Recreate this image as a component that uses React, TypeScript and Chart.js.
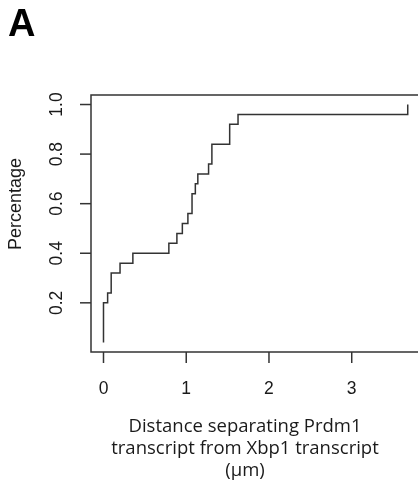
import React, { useEffect, useRef } from "react";
import { Chart, registerables } from "chart.js";

Chart.register(...registerables);

// Sorted distances (µm) and their cumulative fraction
const distances = [
  0, 0, 0, 0, 0, 0.05, 0.093, 0.093, 0.2, 0.355, 0.79, 0.887, 0.953, 1.02,
  1.07, 1.07, 1.11, 1.14, 1.27, 1.31, 1.31, 1.525, 1.525, 1.626, 3.677,
];
const percentages = [
  0.04, 0.08, 0.12, 0.16, 0.2, 0.24, 0.28, 0.32, 0.36, 0.4, 0.44, 0.48, 0.52,
  0.56, 0.6, 0.64, 0.68, 0.72, 0.76, 0.8, 0.84, 0.88, 0.92, 0.96, 1.0,
];
const xTicks = [0, 1, 2, 3];
const xTickLabels = ["0", "1", "2", "3"];
const yTicks = [0.2, 0.4, 0.6, 0.8, 1.0];
const yTickLabels = ["0.2", "0.4", "0.6", "0.8", "1.0"];
const yTitle = "Percentage";
const xTitleLines = [
  "Distance separating Prdm1",
  "transcript from Xbp1 transcript",
  "(µm)",
];
const panelLabel = "A";

const LINE = "#333333";
const TEXT = "#1a1a1a";

const decorPlugin = {
  id: "decor",
  afterDraw(chart: any) {
    const { ctx, chartArea, scales } = chart;
    const { left, top, bottom } = chartArea;
    const xs = scales.x;
    const ys = scales.y;
    ctx.save();
    ctx.strokeStyle = LINE;
    ctx.lineWidth = 1.5;
    // box (right side falls outside the canvas)
    ctx.beginPath();
    ctx.moveTo(430, top);
    ctx.lineTo(left, top);
    ctx.lineTo(left, bottom);
    ctx.lineTo(430, bottom);
    ctx.stroke();
    // x ticks
    ctx.fillStyle = TEXT;
    ctx.font = "17.5px 'Liberation Sans', Arial, sans-serif";
    ctx.textAlign = "center";
    ctx.textBaseline = "middle";
    xTicks.forEach((v, i) => {
      const px = xs.getPixelForValue(v);
      ctx.beginPath();
      ctx.moveTo(px, bottom);
      ctx.lineTo(px, bottom + 11);
      ctx.stroke();
      ctx.fillText(xTickLabels[i], px, 389);
    });
    // y ticks
    yTicks.forEach((v, i) => {
      const py = ys.getPixelForValue(v);
      ctx.beginPath();
      ctx.moveTo(left - 11, py);
      ctx.lineTo(left, py);
      ctx.stroke();
      ctx.save();
      ctx.translate(57, py);
      ctx.rotate(-Math.PI / 2);
      ctx.fillText(yTickLabels[i], 0, 0);
      ctx.restore();
    });
    // y title
    ctx.font = "18px 'Liberation Sans', Arial, sans-serif";
    ctx.save();
    ctx.translate(16, 204);
    ctx.rotate(-Math.PI / 2);
    ctx.fillText(yTitle, 0, 0);
    ctx.restore();
    // x title
    ctx.font = "18.5px 'Open Sans', sans-serif";
    xTitleLines.forEach((t, i) => {
      ctx.fillText(t, 245, 427 + i * 22);
    });
    // panel label
    ctx.font = "bold 38px 'Liberation Sans', Arial, sans-serif";
    ctx.textAlign = "left";
    ctx.textBaseline = "alphabetic";
    ctx.fillStyle = "#000";
    ctx.fillText(panelLabel, 8, 36);
    ctx.restore();
  },
};

export default function App() {
  const ref = useRef<HTMLCanvasElement | null>(null);
  useEffect(() => {
    if (!ref.current) return;
    const chart = new Chart(ref.current, {
      type: "line",
      data: {
        datasets: [
          {
            data: distances.map((d, i) => ({ x: d, y: percentages[i] })),
            stepped: true,
            borderColor: LINE,
            borderWidth: 1.5,
            pointRadius: 0,
            fill: false,
          },
        ],
      },
      options: {
        animation: false,
        responsive: false,
        events: [],
        layout: { padding: { left: 91, top: 95, right: 0, bottom: 148 } },
        plugins: { legend: { display: false }, tooltip: { enabled: false } },
        scales: {
          x: { type: "linear", min: -0.151, max: 3.801, display: false },
          y: { type: "linear", min: 0.0016, max: 1.0384, display: false },
        },
      },
      plugins: [decorPlugin],
    });
    return () => chart.destroy();
  }, []);
  return (
    <div style={{ position: "absolute", left: 0, top: 0, width: 418, height: 500, background: "#fff" }}>
      <canvas ref={ref} width={418} height={500} style={{ display: "block" }} />
    </div>
  );
}
